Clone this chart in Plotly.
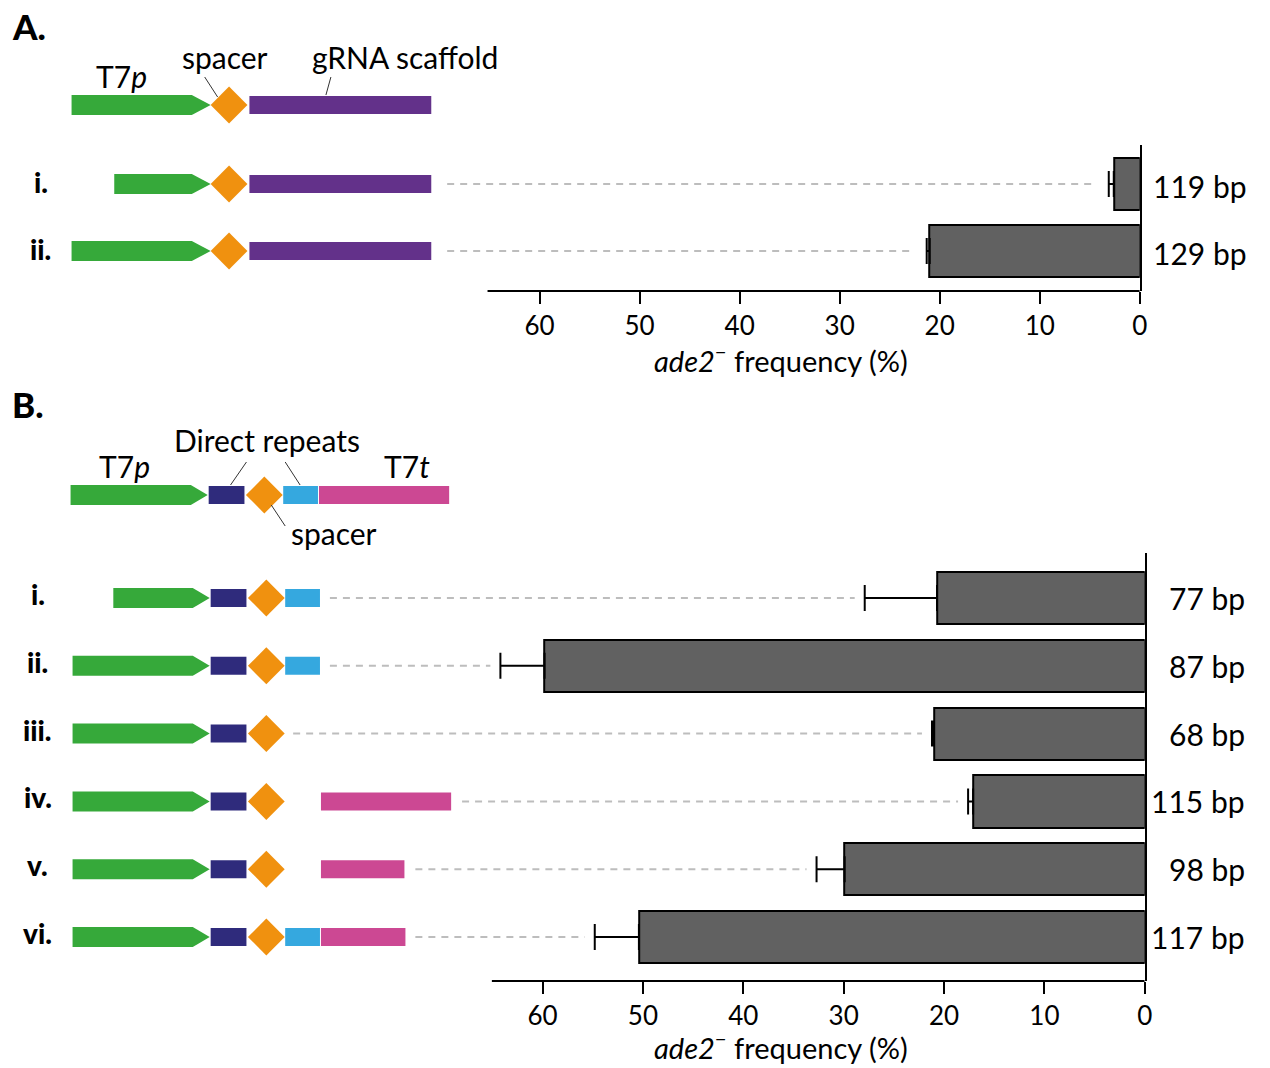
import plotly.graph_objects as go

W, H = 1270, 1068
FONT = "Lato"

# ---------------- data ----------------
rows_A = ["i.", "ii."]
bp_A = ["119 bp", "129 bp"]
freq_A = [2.6, 21.0]
err_A = [0.5, 0.3]

rows_B = ["i.", "ii.", "iii.", "iv.", "v.", "vi."]
bp_B = ["77 bp", "87 bp", "68 bp", "115 bp", "98 bp", "117 bp"]
freq_B = [20.7, 59.8, 21.0, 17.1, 29.9, 50.4]
err_B = [7.2, 4.4, 0.2, 0.5, 2.8, 4.4]

tick_vals = [0, 10, 20, 30, 40, 50, 60]
tick_text = ["0", "10", "20", "30", "40", "50", "60"]
x_title = "<i>ade2</i><sup>−</sup> frequency (%)"

# ---------------- colours ----------------
C_GREEN = "#36a93a"
C_ORANGE = "#f0910f"
C_PURPLE = "#63318a"
C_DBLUE = "#2f2b7c"
C_LBLUE = "#35a8df"
C_PINK = "#cc4893"
C_BAR = "#616161"
C_DASH = "#bdbdbd"

# ---------------- panel geometry (pixels) ----------------
A_axis_right, A_ppu = 1147, 10.067        # px of value 0, px per unit
A_dom_left = 440
A_top, A_bot, A_first, A_pitch = 145, 291, 184, 67.0
A_axis_start = 65.2
B_axis_right, B_ppu = 1152, 10.1
B_dom_left = 285
B_top, B_bot, B_first, B_pitch = 553, 981, 598, 67.8
B_axis_start = 65.05


def yrange(top, bot, first, pitch):
    return [(bot - first) / pitch, -(first - top) / pitch]


fig = go.Figure()

fig.add_trace(go.Bar(
    x=freq_A, y=list(range(len(rows_A))), orientation="h", width=0.78,
    marker=dict(color=C_BAR, line=dict(color="black", width=2)),
    error_x=dict(type="data", array=err_A, arrayminus=[0] * len(err_A), symmetric=False,
                 color="black", thickness=2, width=13),
    xaxis="x", yaxis="y", showlegend=False, hoverinfo="x"))
fig.add_trace(go.Bar(
    x=freq_B, y=list(range(len(rows_B))), orientation="h", width=0.77,
    marker=dict(color=C_BAR, line=dict(color="black", width=2)),
    error_x=dict(type="data", array=err_B, arrayminus=[0] * len(err_B), symmetric=False,
                 color="black", thickness=2, width=13),
    xaxis="x2", yaxis="y2", showlegend=False, hoverinfo="x"))

A_dash_start_px = [450, 450]
B_dash_start_px = [332, 332, 295, 465, 418, 418]
gap = 1.0
for i, (v, e) in enumerate(zip(freq_A, err_A)):
    xs = (A_axis_right - A_dash_start_px[i]) / A_ppu
    fig.add_trace(go.Scatter(x=[xs, v + e + 1.5], y=[i, i], mode="lines",
                             line=dict(color=C_DASH, width=2, dash="7px,6px"),
                             xaxis="x", yaxis="y", showlegend=False, hoverinfo="skip"))
for i, (v, e) in enumerate(zip(freq_B, err_B)):
    xs = (B_axis_right - B_dash_start_px[i]) / B_ppu
    fig.add_trace(go.Scatter(x=[xs, v + e + gap], y=[i, i], mode="lines",
                             line=dict(color=C_DASH, width=2, dash="7px,6px"),
                             xaxis="x2", yaxis="y2", showlegend=False, hoverinfo="skip"))

axis_common = dict(showgrid=False, zeroline=False, ticks="outside", ticklen=12, tickwidth=2,
                   tickcolor="black", tickvals=tick_vals, ticktext=tick_text,
                   tickfont=dict(family=FONT, size=26, color="black"), showline=False,
                   fixedrange=True)
fig.update_layout(
    xaxis=dict(domain=[A_dom_left / W, A_axis_right / W],
               range=[(A_axis_right - A_dom_left) / A_ppu, 0], anchor="y", **axis_common),
    yaxis=dict(domain=[(H - A_bot) / H, (H - A_top) / H], range=yrange(A_top, A_bot, A_first, A_pitch),
               anchor="x", side="right", showline=True, linecolor="black", linewidth=2,
               showticklabels=False, ticks="", showgrid=False, zeroline=False, fixedrange=True),
    xaxis2=dict(domain=[B_dom_left / W, B_axis_right / W],
                range=[(B_axis_right - B_dom_left) / B_ppu, 0], anchor="y2", **axis_common),
    yaxis2=dict(domain=[(H - B_bot) / H, (H - B_top) / H], range=yrange(B_top, B_bot, B_first, B_pitch),
                anchor="x2", side="right", showline=True, linecolor="black", linewidth=2,
                showticklabels=False, ticks="", showgrid=False, zeroline=False, fixedrange=True),
)

shapes = []
annotations = []

shapes.append(dict(type="line", xref="x", yref="paper", x0=A_axis_start, x1=0,
                   y0=(H - A_bot) / H, y1=(H - A_bot) / H, line=dict(color="black", width=2)))
shapes.append(dict(type="line", xref="x2", yref="paper", x0=B_axis_start, x1=0,
                   y0=(H - B_bot) / H, y1=(H - B_bot) / H, line=dict(color="black", width=2)))


def px(x):
    return x / W


def row_y(yref, center, pitch):
    if yref == "paper":
        return lambda off: (H - (center + off)) / H
    return lambda off: center + off / pitch


def add_rect(x0, x1, fy, yref, h, color):
    shapes.append(dict(type="rect", xref="paper", yref=yref, x0=px(x0), x1=px(x1),
                       y0=fy(-h), y1=fy(h), fillcolor=color, line=dict(width=0), layer="above"))


def add_arrow(x0, x1, tip, fy, yref, h, color):
    path = (f"M {px(x0)},{fy(-h)} L {px(x1)},{fy(-h)} L {px(tip)},{fy(0)} "
            f"L {px(x1)},{fy(h)} L {px(x0)},{fy(h)} Z")
    shapes.append(dict(type="path", xref="paper", yref=yref, path=path,
                       fillcolor=color, line=dict(width=0), layer="above"))


def add_diamond(cx, fy, yref, r, color):
    path = (f"M {px(cx - r)},{fy(0)} L {px(cx)},{fy(-r)} L {px(cx + r)},{fy(0)} "
            f"L {px(cx)},{fy(r)} Z")
    shapes.append(dict(type="path", xref="paper", yref=yref, path=path,
                       fillcolor=color, line=dict(width=0), layer="above"))


def add_leader(x0, y0, x1, y1):
    shapes.append(dict(type="line", xref="paper", yref="paper", x0=px(x0), y0=(H - y0) / H,
                       x1=px(x1), y1=(H - y1) / H, line=dict(color="#333333", width=1)))


def add_text(text, x, y, size, xanchor="center", weight="normal"):
    annotations.append(dict(text=text, xref="paper", yref="paper",
                            x=px(x), y=(H - y) / H, xanchor=xanchor, yanchor="middle",
                            showarrow=False,
                            font=dict(family=FONT, size=size, color="black", weight=weight)))


# ---------------- panel A schematic ----------------
def draw_A(fy, yref, start):
    add_arrow(start, 193, 212, fy, yref, 10, C_GREEN)
    add_diamond(230.5, fy, yref, 18.5, C_ORANGE)
    add_rect(251, 434, fy, yref, 9, C_PURPLE)


draw_A(row_y("paper", 105, 1), "paper", 72)
A_starts = [115, 72]
for i in range(len(rows_A)):
    draw_A(row_y("y", i, A_pitch), "y", A_starts[i])

add_text("A.", 10, 26, 35, xanchor="left", weight=900)
add_text("T7<i>p</i>", 122, 76, 30)
add_text("spacer", 226, 57, 30)
add_text("gRNA scaffold", 408, 57, 30)
add_leader(206, 77, 219, 97)
add_leader(333, 77, 328, 95)

# ---------------- panel B schematic ----------------
def draw_B(fy, yref, start, dr2, t7t_end, dx=0):
    add_arrow(start, 194 + dx, 211 + dx, fy, yref, 10, C_GREEN)
    add_rect(212 + dx, 248 + dx, fy, yref, 9, C_DBLUE)
    add_diamond(268 + dx, fy, yref, 18.5, C_ORANGE)
    if dr2:
        add_rect(287 + dx, 322 + dx, fy, yref, 9, C_LBLUE)
    if t7t_end is not None:
        add_rect(323 + dx, t7t_end, fy, yref, 9, C_PINK)


draw_B(row_y("paper", 495, 1), "paper", 71, True, 452, dx=-2)
B_starts = [114, 73, 73, 73, 73, 73]
B_dr2 = [True, True, False, False, False, True]
B_t7t = [None, None, None, 454, 407, 408]
for i in range(len(rows_B)):
    draw_B(row_y("y2", i, B_pitch), "y2", B_starts[i], B_dr2[i], B_t7t[i])

add_text("B.", 10, 404, 35, xanchor="left", weight=900)
add_text("T7<i>p</i>", 125, 466, 30)
add_text("Direct repeats", 269, 440, 30)
add_text("T7<i>t</i>", 410, 466, 30)
add_text("spacer", 336, 533, 30)
add_leader(248, 462, 232, 485)
add_leader(287, 462, 302, 485)
add_leader(273, 505, 287, 526)

for i, r in enumerate(rows_A):
    annotations.append(dict(text=r, xref="paper", yref="y", x=px(41), y=i - 2 / A_pitch,
                            xanchor="center", yanchor="middle", showarrow=False,
                            font=dict(family=FONT, size=28, color="black", weight=900)))
for i, r in enumerate(rows_B):
    annotations.append(dict(text=r, xref="paper", yref="y2", x=px(38), y=i - 4 / B_pitch,
                            xanchor="center", yanchor="middle", showarrow=False,
                            font=dict(family=FONT, size=28, color="black", weight=900)))

for i, t in enumerate(bp_A):
    annotations.append(dict(text=t, xref="paper", yref="y", x=px(1257), y=i + 2 / A_pitch,
                            xanchor="right", yanchor="middle", showarrow=False,
                            font=dict(family=FONT, size=30, color="black")))
for i, t in enumerate(bp_B):
    annotations.append(dict(text=t, xref="paper", yref="y2", x=px(1255), y=i,
                            xanchor="right", yanchor="middle", showarrow=False,
                            font=dict(family=FONT, size=30, color="black")))

add_text(x_title, 786, 359, 29)
add_text(x_title, 786, 1046, 29)

fig.update_layout(width=W, height=H, margin=dict(l=0, r=0, t=0, b=0),
                  paper_bgcolor="white", plot_bgcolor="rgba(0,0,0,0)",
                  shapes=shapes, annotations=annotations, showlegend=False,
                  bargap=0)

fig.write_html("out.html", config={"displayModeBar": False},
               post_script="document.body.style.margin='0';document.body.style.overflow='hidden';")
